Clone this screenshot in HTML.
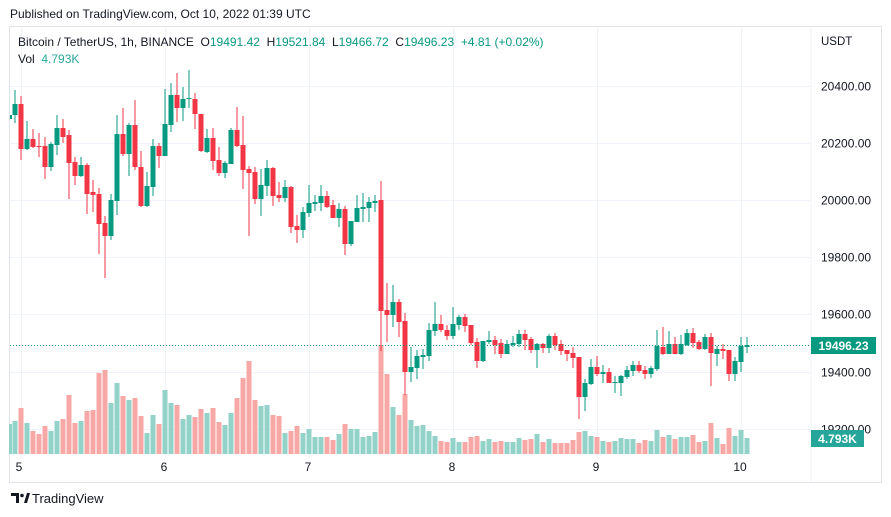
<!DOCTYPE html>
<html><head><meta charset="utf-8"><style>
html,body{margin:0;padding:0;background:#fff;width:891px;height:517px;overflow:hidden;font-family:"Liberation Sans",sans-serif;color:#131722}
.t{position:absolute;white-space:nowrap}
</style></head><body>
<div class="t" style="left:10px;top:7px;font-size:12px">Published on TradingView.com, Oct 10, 2022 01:39 UTC</div>
<svg id="s" width="891" height="517" style="position:absolute;left:0;top:0"></svg>
<div class="t" style="left:18px;top:35px;font-size:12px">Bitcoin / TetherUS, 1h, BINANCE&nbsp; O<span style="color:#089981">19491.42</span>&nbsp; H<span style="color:#089981">19521.84</span>&nbsp; L<span style="color:#089981">19466.72</span>&nbsp; C<span style="color:#089981">19496.23</span>&nbsp; <span style="color:#089981">+4.81 (+0.02%)</span></div>
<div class="t" style="left:18px;top:52px;font-size:12px">Vol&nbsp; <span style="color:#26a69a">4.793K</span></div>
<div class="t" style="left:32px;top:491px;font-size:13px">TradingView</div>
<script>
var C=[[104,115,90,123,1],[104,149,96,160,0],[139,149,121,150,1],[139,147,129,148,0],[146,146.5,133,157,0],[146,167,137,179,0],[144,167,142,171,1],[128,145,115,155,1],[128,137,119,143,0],[135,163,130,199,0],[162,176,157,185,0],[165,176,157,177,1],[165,194,163,214,0],[192,195,180,212,0],[194,224,188,254,0],[223,236,216,278,0],[200,236,194,240,1],[134,201,115,215,1],[134,154,108,156,0],[125,154,123,176,1],[125,167,100,170,0],[167,206,151,207,0],[186,206,172,207,1],[146,187,139,196,1],[146,156,143,168,0],[124,156,89,156,1],[95,125,83,132,1],[95,108,73,122,0],[99,108,87,121,1],[98,99,70,108,1],[99,114,93,129,0],[114,151,114,152,0],[138,152,129,153,1],[138,161,128,170,0],[160,173,147,176,0],[163,173,161,178,1],[130,164,128,164,1],[130,146,107,147,0],[145,170,116,189,0],[169,173,166,236,0],[172,199,167,204,0],[185,199,169,216,1],[168,186,160,196,1],[168,196,167,206,0],[195,198,182,202,0],[187,198,180,202,1],[187,227,186,233,0],[226,230,215,243,0],[212,230,207,238,1],[203,213,185,217,1],[202,204,195,211,1],[196,203,185,211,1],[196,207,191,208,0],[205,218,200,218,0],[209,218,203,227,1],[209,244,206,255,0],[221,244,221,246,1],[208,222,195,222,1],[207,209,193,222,1],[202,208,197,222,1],[201,203,195,212,1],[200,311,181,351,0],[310,315,283,342,0],[302,315,285,327,1],[302,322,299,337,0],[321,372,313,395,0],[367,372,347,382,1],[356,368,350,379,1],[355,357,349,369,1],[330,356,323,361,1],[324,331,302,336,1],[324,330,315,332,0],[330,336,325,340,0],[324,336,307,339,1],[317,325,315,330,1],[317,326,314,332,0],[325,343,325,345,0],[342,361,338,368,0],[341,361,341,362,1],[340,342,331,344,1],[340,345,336,354,0],[343,354,339,358,0],[344,354,340,354,1],[343,345,336,347,1],[334,344,330,347,1],[334,340,330,350,0],[339,350,337,353,0],[344,350,343,368,1],[344,348,343,353,0],[336,348,334,353,1],[336,345,333,350,0],[344,351,340,355,0],[350,354,350,361,0],[353,358,347,368,0],[357,397,357,419,0],[383,397,379,411,1],[367,384,359,385,1],[367,374,356,376,0],[372,374,365,383,1],[372,383,368,383,0],[382,383,376,393,1],[376,383,375,396,1],[370,377,366,379,1],[365,371,361,376,1],[365,371,361,373,0],[370,374,366,379,0],[368,374,366,378,1],[346,369,330,371,1],[347,354,327,355,0],[344,354,331,354,1],[344,354,337,354,0],[344,354,335,355,1],[333,345,329,346,1],[333,343,328,348,0],[342,349,340,350,0],[337,349,334,350,1],[337,353,333,386,0],[349,354,346,366,1],[349,351,344,359,0],[350,374,350,381,0],[361,374,357,381,1],[346,362,337,372,1],[345,347,337,353,1]];
var V=[213,174,219,243,252,228,243,213,207,135,219,213,183,180,69,60,159,99,138,150,144,198,249,195,222,120,159,165,207,195,201,177,189,174,216,225,189,144,84,33,150,168,165,195,198,249,243,228,249,237,261,261,261,270,252,222,237,237,261,258,246,-15,72,171,195,132,210,228,225,243,258,273,276,264,276,276,261,258,273,267,276,273,276,276,264,270,267,252,276,267,279,279,279,270,246,243,258,261,273,276,273,264,267,267,279,270,273,240,261,255,267,261,261,255,276,273,219,264,282,234,258,240,264];
var h='';
h+='<rect x="9.5" y="26.5" width="872" height="456" fill="none" stroke="#e0e3eb"/>';
h+='<line x1="811" y1="27" x2="811" y2="482" stroke="#f0f3fa"/>';
[86,143,200,257,314,372,429].forEach(function(y){h+='<line x1="10" y1="'+(y+.5)+'" x2="811" y2="'+(y+.5)+'" stroke="#f0f3fa"/>';});
[21,165,309,453,597,741].forEach(function(x){h+='<line x1="'+(x+.5)+'" y1="27" x2="'+(x+.5)+'" y2="458" stroke="#f0f3fa"/>';});
h+='<rect x="9" y="424" width="3" height="30" fill="#92d2c8"/>';
for(var i=0;i<V.length;i++){var x=15+6*i,g=C[i][4];var vh=(312-V[i])/3;h+='<rect x="'+(x-2.5)+'" y="'+(454-vh)+'" width="5" height="'+vh+'" fill="'+(g?'#92d2c8':'#f7a8a6')+'"/>';}
for(var i=0;i<C.length;i++){var c=C[i],x=15+6*i,col=c[4]?'#089981':'#f23645';h+='<rect x="'+(x-0.5)+'" y="'+c[2]+'" width="1" height="'+(c[3]-c[2])+'" fill="'+col+'"/>';var bh=Math.max(1,c[1]-c[0]);h+='<rect x="'+(x-2.5)+'" y="'+c[0]+'" width="5" height="'+bh+'" fill="'+col+'"/>';}
h+='<rect x="10" y="115" width="2" height="4" fill="#089981"/>';
h+='<line x1="10" y1="345.5" x2="811" y2="345.5" stroke="#089981" stroke-dasharray="1,2"/>';
h+='<text x="821" y="45" font-size="11.5" fill="#131722">USDT</text>';
[[86,'20400.00'],[143,'20200.00'],[200,'20000.00'],[257,'19800.00'],[314,'19600.00'],[372,'19400.00'],[429,'19200.00']].forEach(function(p){h+='<text x="821" y="'+(p[0]+4.5)+'" font-size="12" fill="#131722">'+p[1]+'</text>';});
h+='<rect x="811" y="337" width="65" height="17" fill="#089981"/><text x="843.5" y="350" font-size="12" fill="#fff" text-anchor="middle" font-weight="bold">19496.23</text>';
h+='<rect x="811" y="430" width="53" height="17" fill="#26a69a"/><text x="837.5" y="443" font-size="12" fill="#fff" text-anchor="middle" font-weight="bold">4.793K</text>';
[[19,'5'],[164,'6'],[308,'7'],[452,'8'],[596,'9'],[740,'10']].forEach(function(p){h+='<text x="'+p[0]+'" y="471" font-size="12" fill="#131722" text-anchor="middle">'+p[1]+'</text>';});
h+='<path d="M11 493h8v10h-3v-7h-5z" fill="#131722"/><circle cx="22" cy="495.5" r="1.8" fill="#131722"/><path d="M24 503l3-10h3l-3 10z" fill="#131722"/>';
document.getElementById('s').innerHTML=h;
</script>
</body></html>
